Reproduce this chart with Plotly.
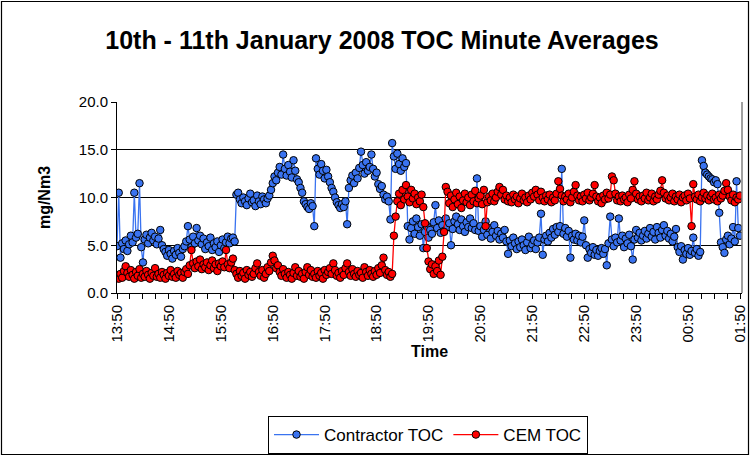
import plotly.graph_objects as go

# minute offsets from 13:50 (two-minute sampling of the minute averages)
contractor_toc = [
    4.9, 10.5, 3.7, 5.2, 4.6, 5.5, 4.4, 5.1, 6.0, 5.3,
    10.5, 5.8, 6.2, 11.5, 4.8, 3.2, 5.6, 6.1, 5.2, 5.8,
    6.3, 5.5, 5.9, 5.1, 5.7, 6.6, 5.0, 4.6, 4.3, 3.9,
    4.5, 4.1, 3.6, 4.4, 4.0, 4.7, 4.2, 3.8, 4.6, 4.9,
    5.4, 7.0, 5.6, 4.8, 5.9, 5.2, 6.8, 5.5, 6.0, 5.1,
    5.7, 4.6, 5.3, 4.9, 5.8, 4.5, 5.2, 4.8, 5.4, 4.3,
    5.0, 5.6, 4.7, 5.3, 5.9, 5.2, 5.7, 5.8, 5.4, 10.3,
    10.5, 9.8, 9.4, 10.0, 9.6, 9.2, 9.9, 10.4, 9.5, 9.7,
    9.1, 10.2, 9.6, 9.3, 10.1, 9.8, 9.4, 9.9, 10.2, 10.8,
    11.5, 12.2, 11.8, 12.6, 13.2, 12.4, 14.5, 13.0, 12.3, 13.4,
    12.7, 12.1, 13.9, 12.8, 11.9, 11.6, 11.0, 10.5, 9.6, 9.3,
    9.0, 8.8, 9.4, 9.1, 7.0, 14.1, 13.0, 12.4, 13.5, 12.8,
    12.0, 12.9, 12.2, 11.6, 11.0, 10.6, 10.0, 9.5, 9.2, 8.9,
    9.3, 9.0, 9.6, 7.2, 11.0, 11.8, 12.3, 11.5, 12.6, 12.0,
    13.1, 14.8, 13.4, 12.5, 13.7, 12.8, 13.2, 14.5, 13.0, 12.2,
    12.6, 11.4, 10.9, 11.2, 10.3, 9.8, 10.1, 9.6, 7.7, 15.7,
    14.3, 13.0, 14.6, 13.5, 12.8, 14.1, 13.2, 13.6, 7.0, 5.6,
    6.8, 7.5, 6.2, 7.8, 6.9, 6.0, 7.2, 4.7, 6.4, 7.0,
    5.8, 6.6, 6.2, 7.4, 9.2, 6.8, 7.6, 6.3, 7.1, 6.5,
    7.8, 6.9, 7.3, 5.0, 6.7, 7.5, 8.0, 7.2, 6.6, 7.7,
    7.0, 6.4, 7.4, 6.9, 7.8, 6.8, 7.3, 6.6, 12.0, 6.5,
    7.0, 5.9, 6.6, 7.5, 6.1, 6.8, 5.7, 6.4, 7.1, 6.0,
    6.5, 5.6, 6.2, 5.8, 6.6, 5.4, 4.1, 5.5, 4.9, 5.8,
    5.2, 4.6, 5.4, 4.8, 5.6, 5.0, 4.5, 5.3, 5.9, 4.7,
    5.1, 5.5, 4.6, 5.3, 5.8, 8.3, 4.0, 5.6, 6.0, 5.4,
    6.3, 5.8, 6.7, 6.1, 6.9, 6.4, 7.0, 13.0, 6.2, 6.8,
    5.9, 6.5, 3.7, 6.0, 5.6, 6.2, 5.5, 6.0, 5.3, 5.9,
    7.6, 5.0, 3.7, 4.6, 4.2, 4.8, 4.0, 4.5, 3.9, 4.4,
    4.7, 4.1, 4.6, 2.9, 5.2, 8.0, 5.6, 4.9, 5.8, 5.3,
    7.8, 5.5, 6.0, 4.8, 5.7, 5.2, 6.1, 4.9, 3.5, 5.6,
    6.6, 5.8, 6.3, 5.5, 6.0, 6.5, 5.7, 6.2, 6.8, 5.9,
    6.4, 5.6, 6.9, 6.3, 5.8, 6.6, 7.1, 6.0, 6.5, 5.7,
    6.2, 5.4, 5.9, 6.7, 4.8, 4.3, 4.9, 3.5, 4.5, 4.1,
    4.7, 4.0, 4.4, 5.8, 4.2, 4.6, 3.9, 4.3, 13.9, 13.3,
    12.6, 12.4, 12.2, 12.0, 11.9, 11.6, 11.8, 11.4, 8.4, 5.3,
    4.8, 4.2, 5.6, 6.0, 5.1, 5.7, 6.9, 5.4, 11.7, 6.8,
    6.0,
]

cem_toc = [
    1.8, 1.5, 2.0, 1.6, 2.3, 2.8, 2.1, 1.7, 2.4, 1.9,
    1.5, 2.2, 1.8, 2.5, 1.6, 2.0, 1.7, 2.3, 1.9, 1.5,
    2.1, 1.8, 2.6, 1.7, 2.0, 1.6, 2.2, 1.9, 1.5, 2.1,
    1.8, 2.4, 1.7, 2.0, 1.6, 2.3, 1.9, 2.1, 1.6, 2.2,
    2.5, 2.0, 2.9, 4.5, 3.1, 2.6, 3.3, 2.8, 3.5, 2.5,
    3.0, 2.7, 3.2, 2.4, 2.9, 3.4, 2.6, 3.0, 2.3, 3.1,
    2.8, 3.3, 2.7, 4.5, 3.0, 2.6, 3.2, 3.6, 2.4, 2.0,
    1.6, 2.3, 1.8, 2.1, 1.5, 2.4, 1.9, 2.2, 1.7, 2.0,
    2.6, 3.1, 2.2, 1.8, 2.4, 1.6, 2.0, 2.7, 2.3, 3.2,
    3.9, 3.4, 2.6, 2.9, 2.2, 1.8, 2.5, 2.0, 1.6, 2.2,
    1.9, 1.5, 2.1, 2.7, 1.8, 2.3, 1.7, 2.0, 1.5, 2.2,
    2.7, 1.9, 2.4, 1.7, 2.0, 1.6, 2.3, 1.8, 2.1, 1.5,
    2.4, 1.9, 2.2, 2.6, 2.0, 3.1, 2.4, 1.8, 2.1, 1.6,
    2.3, 1.9, 2.6, 3.1, 2.2, 1.8, 2.5, 2.0, 1.7, 2.3,
    1.9, 2.1, 1.6, 2.7, 2.2, 1.8, 2.4, 2.0, 1.7, 2.3,
    1.9, 2.6, 2.1, 2.9, 3.7, 2.4, 1.9, 2.2, 1.7, 2.0,
    6.0, 8.0, 9.6, 10.4, 9.2, 10.8, 9.8, 11.3, 10.1, 9.5,
    10.8, 9.9, 10.4, 9.3, 10.0, 9.6, 10.3, 9.0, 7.3, 4.7,
    3.3, 2.5, 3.0, 2.0, 2.8, 2.3, 3.4, 1.9, 3.8, 6.4,
    11.1, 10.6, 9.4, 10.2, 9.0, 9.8, 10.5, 9.3, 10.1, 8.9,
    9.7, 10.4, 9.5, 10.0, 9.2, 10.3, 9.6, 10.7, 9.4, 9.9,
    10.2, 9.3, 10.8, 7.0, 9.5, 10.1, 9.7, 10.4, 9.6, 10.0,
    10.6, 11.1, 10.3, 10.8, 9.8, 10.2, 9.6, 10.0, 9.5, 10.3,
    9.8, 10.1, 9.4, 9.9, 10.4, 9.7, 10.0, 9.5, 10.2, 9.8,
    10.5, 10.1, 10.8, 10.3, 9.7, 10.6, 10.0, 9.6, 10.2, 9.8,
    10.3, 9.5, 10.0, 9.7, 10.4, 11.7, 10.9, 10.2, 9.6, 10.1,
    9.8, 10.4, 9.5, 10.0, 10.6, 11.3, 10.2, 9.7, 10.1, 9.6,
    10.3, 9.9, 10.5, 9.7, 10.0, 10.4, 11.3, 10.1, 9.6, 10.0,
    9.4, 10.2, 9.8, 10.5, 9.9, 10.3, 12.2, 11.8, 10.4, 9.7,
    10.1, 9.6, 10.2, 9.8, 10.0, 9.5, 10.3, 9.9, 10.8, 11.7,
    10.4, 9.8, 10.1, 9.6, 10.2, 9.9, 10.5, 9.7, 10.0, 10.4,
    9.6, 10.1, 9.8, 10.3, 10.7, 11.8, 10.5, 9.9, 10.2, 9.7,
    10.0, 10.4, 9.6, 10.1, 9.8, 10.3, 9.5, 10.0, 10.2, 9.7,
    10.4, 9.9, 7.0, 11.4, 10.1, 9.8, 10.3, 9.6, 10.0, 10.5,
    9.9, 10.2, 9.7, 10.1, 10.4, 9.8, 10.0, 9.6, 10.3, 9.9,
    10.2, 10.7, 11.5, 10.8, 10.1, 9.7, 10.3, 9.5, 10.0, 9.8,
    10.2,
]

sample_step_min = 2
tick_labels = ["13:50", "14:50", "15:50", "16:50", "17:50", "18:50", "19:50",
               "20:50", "21:50", "22:50", "23:50", "00:50", "01:50"]
y_ticks = [0, 5, 10, 15, 20]

minutes_c = [i * sample_step_min for i in range(len(contractor_toc))]
minutes_e = [i * sample_step_min for i in range(len(cem_toc))]
tick_pos = [60 * k for k in range(len(tick_labels))]

W, H = 750, 456
L, R, T, B = 117, 742, 102, 293
FONT = "Liberation Sans, Arial, sans-serif"

def px(xp):
    return (xp - L) / (R - L)

def py(yp):
    return (B - yp) / (B - T)

BLUE = "#3A73F0"
RED = "#FF0000"

fig = go.Figure()
fig.add_trace(go.Scatter(
    x=minutes_c, y=contractor_toc, name="Contractor TOC", mode="lines+markers",
    line=dict(color=BLUE, width=1.3),
    marker=dict(symbol="circle", size=7.5, color=BLUE, line=dict(color="black", width=1)),
))
fig.add_trace(go.Scatter(
    x=minutes_e, y=cem_toc, name="CEM TOC", mode="lines+markers",
    line=dict(color=RED, width=1.3),
    marker=dict(symbol="circle", size=7.5, color=RED, line=dict(color="black", width=1)),
))

fig.update_layout(
    width=W, height=H,
    margin=dict(l=L, r=W - R, t=T, b=H - B, autoexpand=False),
    paper_bgcolor="white", plot_bgcolor="white",
    font=dict(family=FONT, size=15, color="black"),
    title=dict(text="<b>10th - 11th January 2008 TOC Minute Averages</b>",
               x=382 / W, xanchor="center", y=1 - 40 / H, yanchor="middle",
               font=dict(size=25, family=FONT)),
    showlegend=True,
    legend=dict(orientation="h", x=px(428), xanchor="center", y=py(416), yanchor="top",
                bordercolor="black", borderwidth=1, bgcolor="white",
                font=dict(size=17, family=FONT), itemwidth=45,
                traceorder="normal"),
    xaxis=dict(
        range=[0, 722.3], tickmode="array", tickvals=tick_pos, ticktext=tick_labels,
        tickangle=-90, ticks="outside", ticklen=5, tickcolor="black",
        showgrid=False, zeroline=False, showline=True, linecolor="black", linewidth=1,
        tickfont=dict(size=15),
        minor=dict(dtick=15, tick0=0, ticks="outside", ticklen=5, tickcolor="black", showgrid=False),
        title=dict(text="<b>Time</b>", font=dict(size=16), standoff=4),
    ),
    yaxis=dict(
        range=[0, 20], tickvals=y_ticks, tickformat=".1f",
        ticks="outside", ticklen=5, tickcolor="black",
        showgrid=True, gridcolor="black", gridwidth=1, zeroline=False,
        showline=True, linecolor="black", linewidth=1,
        tickfont=dict(size=15),
        title=dict(text="<b>mg/Nm3</b>", font=dict(size=16), standoff=24),
    ),
    shapes=[
        dict(type="line", xref="paper", yref="paper", x0=1, x1=1, y0=0, y1=1,
             line=dict(color="#808080", width=1.5)),
        dict(type="rect", xref="paper", yref="paper", x0=px(1.5), x1=px(748.5),
             y0=py(454.5), y1=py(1.5), line=dict(color="black", width=1.2)),
    ],
)

fig.write_html("out.html", config={"displayModeBar": False},
               post_script="document.body.style.margin='0px';")
